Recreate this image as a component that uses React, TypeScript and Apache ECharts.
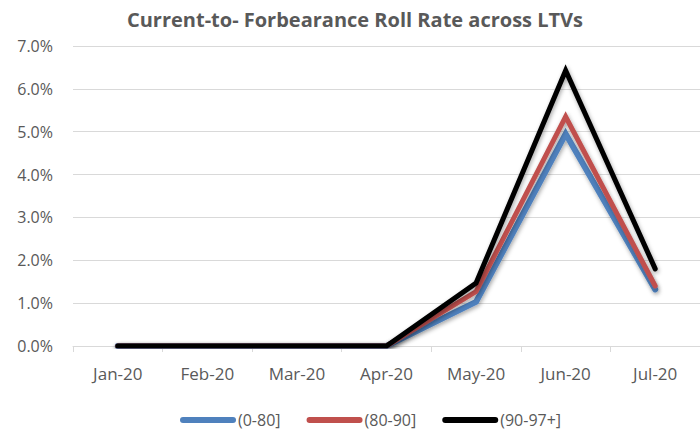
import React, { useEffect, useRef } from "react";
import * as echarts from "echarts";

const categories = ["Jan-20", "Feb-20", "Mar-20", "Apr-20", "May-20", "Jun-20", "Jul-20"];
const seriesNames = ["(0-80]", "(80-90]", "(90-97+]"];
const s0080 = [0, 0, 0, 0, 1.03, 4.95, 1.32];
const s8090 = [0, 0, 0, 0, 1.27, 5.35, 1.4];
const s9097 = [0, 0, 0, 0, 1.47, 6.43, 1.8];
const colors = ["#4f81bd", "#c0504d", "#000000"];
const yTicks = { min: 0, max: 7, interval: 1 };

export default function App() {
  const ref = useRef<HTMLDivElement>(null);
  useEffect(() => {
    document.body.style.margin = "0";
    if (!ref.current) return;
    const chart = echarts.init(ref.current, null, { renderer: "svg" });
    const font = "'Open Sans', 'Liberation Sans', sans-serif";
    const data = [s0080, s8090, s9097];
    const widths = [6, 5, 5];
    chart.setOption({
      animation: false,
      title: {
        text: "Current-to- Forbearance Roll Rate across LTVs",
        left: 350,
        textAlign: "center",
        top: 4,
        textStyle: { fontFamily: font, fontSize: 20, fontWeight: "bold", color: "#595959" },
      },
      grid: { left: 73, right: 0, top: 46, bottom: 85 },
      legend: {
        top: 407,
        left: 175,
        itemWidth: 56,
        itemHeight: 6,
        itemGap: 26,
        icon: "path://M3,0 L53,0 A3,3 0 0 1 53,6 L3,6 A3,3 0 0 1 3,0 Z",
        textStyle: { fontFamily: font, fontSize: 16, color: "#595959", padding: [0, 0, 0, -3] },
        data: seriesNames,
      },
      xAxis: {
        type: "category",
        data: categories,
        boundaryGap: true,
        axisLine: { lineStyle: { color: "#d9d9d9", width: 1 } },
        axisTick: { show: true, length: 6, lineStyle: { color: "#d9d9d9" } },
        axisLabel: { fontFamily: font, fontSize: 17, color: "#595959", margin: 19 },
      },
      yAxis: {
        type: "value",
        min: yTicks.min,
        max: yTicks.max,
        interval: yTicks.interval,
        axisLine: { show: false },
        axisTick: { show: false },
        splitLine: { lineStyle: { color: "#d9d9d9", width: 1 } },
        axisLabel: {
          fontFamily: font,
          fontSize: 16,
          color: "#595959",
          margin: 20,
          formatter: (v: number) => v.toFixed(1) + "%",
        },
      },
      series: seriesNames.map((name, i) => ({
        name,
        type: "line",
        data: data[i],
        symbol: "none",
        color: colors[i],
        lineStyle: {
          color: colors[i],
          width: widths[i],
          cap: "round",
          join: "miter",
          shadowColor: "rgba(0,0,0,0.35)",
          shadowBlur: 4,
          shadowOffsetY: 2,
          shadowOffsetX: 1,
        },
        itemStyle: { color: colors[i] },
        z: 2 + i,
      })),
    });
    return () => chart.dispose();
  }, []);
  return <div ref={ref} style={{ width: 700, height: 431 }} />;
}
